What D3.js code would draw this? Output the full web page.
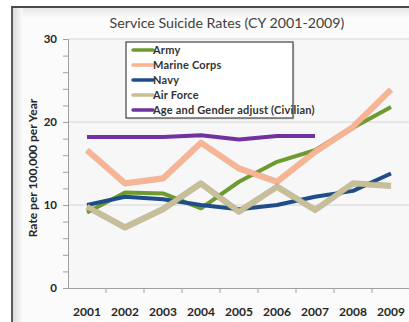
<!DOCTYPE html>
<html>
<head>
<meta charset="utf-8">
<script src="https://cdn.jsdelivr.net/npm/d3@7"></script>
<style>
  body { margin: 0; background: #fff; }
  text { font-family: Lato, "Open Sans", sans-serif; }
</style>
</head>
<body>
<div id="chart"></div>
<script>
// data
let years = ['2001', '2002', '2003', '2004', '2005', '2006', '2007', '2008', '2009']
let army = [9.1, 11.5, 11.4, 9.6, 12.8, 15.2, 16.6, 19.3, 21.8]
let marines = [16.6, 12.6, 13.2, 17.5, 14.4, 12.8, 16.4, 19.4, 23.9]
let navy = [10.0, 11.0, 10.7, 10.0, 9.5, 10.0, 11.0, 11.7, 13.8]
let airForce = [9.8, 7.3, 9.5, 12.6, 9.2, 12.2, 9.4, 12.6, 12.3]
let civilian = [18.2, 18.2, 18.2, 18.4, 17.9, 18.3, 18.3]
let yTicks = [0, 10, 20, 30]

let series = [
  {name: 'Army', values: army, color: '#6e9a30', width: 4},
  {name: 'Marine Corps', values: marines, color: '#f8b493', width: 5, edge: '#d9957a'},
  {name: 'Navy', values: navy, color: '#1f4d8a', width: 4},
  {name: 'Air Force', values: airForce, color: '#c6bf98', width: 5, edge: '#9c9779'},
  {name: 'Age and Gender adjust (Civilian)', values: civilian, color: '#7131a1', width: 4}
]

let width = 409,
    height = 322

let svg = d3.select('#chart')
  .append('svg')
  .attr('width', width)
  .attr('height', height)

let defs = svg.append('defs')
let gl = defs.append('linearGradient').attr('id', 'bevelL').attr('x1', 0).attr('x2', 1).attr('y1', 0).attr('y2', 0)
gl.append('stop').attr('offset', 0).attr('stop-color', '#d8d8d8')
gl.append('stop').attr('offset', 1).attr('stop-color', '#fbfbfb')
let gt = defs.append('linearGradient').attr('id', 'bevelT').attr('x1', 0).attr('x2', 0).attr('y1', 0).attr('y2', 1)
gt.append('stop').attr('offset', 0).attr('stop-color', '#e6e6e6')
gt.append('stop').attr('offset', 1).attr('stop-color', '#fbfbfb')

// frame with a soft bevel
svg.append('rect').attr('x', 12).attr('y', 7).attr('width', 420).attr('height', 340).attr('fill', '#fbfbfb')
svg.append('rect').attr('x', 12).attr('y', 7).attr('width', 420).attr('height', 11).attr('fill', 'url(#bevelT)')
svg.append('rect').attr('x', 12).attr('y', 7).attr('width', 11).attr('height', 340).attr('fill', 'url(#bevelL)')
svg.append('path')
  .attr('d', 'M12,330 V7 H420')
  .attr('fill', 'none')
  .attr('stroke', '#4a4a4a')
  .attr('stroke-width', 1.8)

let x = d3.scaleBand().domain(years).range([68, 410])
let y = d3.scaleLinear().domain([0, 30]).range([288, 39])

// plot area
svg.append('rect')
  .attr('x', 68).attr('y', y(30))
  .attr('width', 342).attr('height', y(0) - y(30))
  .attr('fill', '#f7f7f7')

// gridlines
svg.append('g')
  .selectAll('line')
  .data(yTicks.filter(d => d > 0))
  .enter()
  .append('line')
  .attr('x1', 68).attr('x2', 410)
  .attr('y1', d => y(d)).attr('y2', d => y(d))
  .attr('stroke', '#d6d6d6')

// y axis with minor ticks
let yAxis = svg.append('g')
  .attr('transform', 'translate(68,0)')
  .call(d3.axisLeft(y).tickValues(d3.range(0, 31, 2)).tickSize(5).tickFormat(''))
yAxis.select('.domain').attr('stroke', '#a0a0a0')
yAxis.selectAll('line').attr('stroke', '#a0a0a0')

svg.append('g')
  .selectAll('text')
  .data(yTicks)
  .enter()
  .append('text')
  .attr('x', 57)
  .attr('y', d => y(d) + 4)
  .attr('text-anchor', 'end')
  .style('font-size', '11.5px')
  .style('font-weight', 'bold')
  .style('fill', '#262626')
  .text(d => d)

// x axis
let xAxis = svg.append('g')
  .attr('transform', 'translate(0,288)')
  .call(d3.axisBottom(x).tickSize(0).tickFormat(''))
xAxis.select('.domain').attr('stroke', '#a0a0a0')

svg.append('g')
  .selectAll('line')
  .data(years.slice(1))
  .enter()
  .append('line')
  .attr('x1', d => x(d)).attr('x2', d => x(d))
  .attr('y1', 288).attr('y2', 293)
  .attr('stroke', '#a0a0a0')

svg.append('g')
  .selectAll('text')
  .data(years)
  .enter()
  .append('text')
  .attr('x', d => x(d) + x.bandwidth() / 2)
  .attr('y', 316)
  .attr('text-anchor', 'middle')
  .style('font-size', '12px')
  .style('font-weight', 'bold')
  .style('fill', '#262626')
  .text(d => d)

// title and axis label
svg.append('text')
  .attr('x', 227).attr('y', 28)
  .attr('text-anchor', 'middle')
  .style('font-size', '14.2px')
  .style('fill', '#404040')
  .text('Service Suicide Rates (CY 2001-2009)')

svg.append('text')
  .attr('transform', 'translate(37,168) rotate(-90)')
  .attr('text-anchor', 'middle')
  .style('font-size', '12px')
  .style('font-weight', 'bold')
  .style('fill', '#262626')
  .text('Rate per 100,000 per Year')

// lines
let line = d3.line()
  .x((d, i) => x(years[i]) + x.bandwidth() / 2)
  .y(d => y(d))

series.forEach(s => {
  if (s.edge) {
    svg.append('path')
      .attr('d', line(s.values))
      .attr('fill', 'none')
      .attr('stroke', s.edge)
      .attr('stroke-width', s.width + 1.2)
      .attr('stroke-linejoin', 'round')
      .attr('opacity', 0.6)
  }
  svg.append('path')
    .attr('d', line(s.values))
    .attr('fill', 'none')
    .attr('stroke', s.color)
    .attr('stroke-width', s.width)
    .attr('stroke-linejoin', 'round')
})

// legend
let legend = svg.append('g')
legend.append('rect')
  .attr('x', 127.5).attr('y', 43.5)
  .attr('width', 167).attr('height', 76)
  .attr('fill', '#c8c8c8')
  .attr('opacity', 0.6)
legend.append('rect')
  .attr('x', 126).attr('y', 42)
  .attr('width', 167).attr('height', 76)
  .attr('fill', '#ffffff')
  .attr('stroke', '#505050')
  .attr('stroke-width', 1.3)

let items = legend.selectAll('g.item')
  .data(series)
  .enter()
  .append('g')
  .attr('transform', (d, i) => 'translate(0,' + (50 + i * 15) + ')')

items.append('line')
  .attr('x1', 133).attr('x2', 153)
  .attr('stroke', d => d.color)
  .attr('stroke-width', 3.5)
  .attr('stroke-linecap', 'round')

items.append('text')
  .attr('x', 153)
  .attr('y', 4)
  .style('font-size', '11px')
  .style('font-weight', 'bold')
  .style('letter-spacing', '0.2px')
  .style('fill', '#333')
  .text(d => d.name)
</script>
</body>
</html>
